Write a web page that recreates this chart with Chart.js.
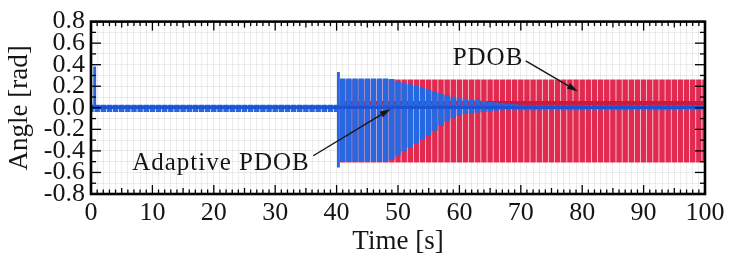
<!DOCTYPE html>
<html><head><meta charset="utf-8">
<script src="https://cdn.jsdelivr.net/npm/chart.js@4.4.1/dist/chart.umd.min.js"></script>
<style>html,body{margin:0;padding:0;background:#fff;}#wrap{width:747px;height:260px;position:relative}</style>
</head><body><div id="wrap"><canvas id="c" width="747" height="260"></canvas></div>
<script>
// sample times (s)
const times=[0,1,2,3,4,5,6,7,8,9,10,11,12,13,14,15,16,17,18,19,20,21,22,23,24,25,26,27,28,29,30,31,32,33,34,35,36,37,38,39,40,
41,42,43,44,45,46,47,48,49,50,51,52,53,54,55,56,57,58,59,60,61,62,63,64,65,66,67,68,69,70,
71,72,73,74,75,76,77,78,79,80,81,82,83,84,85,86,87,88,89,90,91,92,93,94,95,96,97,98,99,100];
// Adaptive PDOB envelope (upper / lower) [rad]
const blueHi=[0.025,0.025,0.025,0.025,0.025,0.025,0.025,0.025,0.025,0.025,0.025,0.025,0.025,0.025,0.025,0.025,0.025,0.025,0.025,0.025,0.025,0.025,0.025,0.025,0.025,0.025,0.025,0.025,0.025,0.025,0.025,0.025,0.025,0.025,0.025,0.025,0.025,0.025,0.025,0.025,0.025,
0.27,0.27,0.27,0.27,0.27,0.27,0.27,0.27,0.265,0.245,0.23,0.215,0.2,0.18,0.165,0.145,0.13,0.115,0.1,0.085,0.08,0.075,0.07,0.06,0.05,0.045,0.04,0.035,0.03,0.025,
0.02,0.02,0.02,0.02,0.02,0.02,0.02,0.02,0.02,0.02,0.02,0.02,0.02,0.02,0.02,0.02,0.02,0.02,0.02,0.02,0.02,0.02,0.02,0.02,0.02,0.02,0.02,0.02,0.02,0.02];
const blueLo=[-0.035,-0.035,-0.035,-0.035,-0.035,-0.035,-0.035,-0.035,-0.035,-0.035,-0.035,-0.035,-0.035,-0.035,-0.035,-0.035,-0.035,-0.035,-0.035,-0.035,-0.035,-0.035,-0.035,-0.035,-0.035,-0.035,-0.035,-0.035,-0.035,-0.035,-0.035,-0.035,-0.035,-0.035,-0.035,-0.035,-0.035,-0.035,-0.035,-0.035,-0.035,
-0.5,-0.5,-0.5,-0.5,-0.5,-0.5,-0.5,-0.5,-0.48,-0.44,-0.4,-0.365,-0.33,-0.29,-0.255,-0.21,-0.165,-0.125,-0.095,-0.07,-0.055,-0.048,-0.04,-0.035,-0.03,-0.025,-0.02,-0.02,-0.02,-0.02,
-0.02,-0.02,-0.02,-0.02,-0.02,-0.02,-0.02,-0.02,-0.02,-0.02,-0.02,-0.02,-0.02,-0.02,-0.02,-0.02,-0.02,-0.02,-0.02,-0.02,-0.02,-0.02,-0.02,-0.02,-0.02,-0.02,-0.02,-0.02,-0.02,-0.02];
// PDOB envelope (upper / lower) [rad]
const redHi=[null,null,null,null,null,null,null,null,null,null,null,null,null,null,null,null,null,null,null,null,null,null,null,null,null,null,null,null,null,null,null,null,null,null,null,null,null,null,null,null,null,
0.26,0.26,0.26,0.26,0.26,0.26,0.26,0.26,0.26,0.26,0.26,0.26,0.26,0.26,0.26,0.26,0.26,0.26,0.26,0.26,0.26,0.26,0.26,0.26,0.26,0.26,0.26,0.26,0.26,0.26,
0.26,0.26,0.26,0.26,0.26,0.26,0.26,0.26,0.26,0.26,0.26,0.26,0.26,0.26,0.26,0.26,0.26,0.26,0.26,0.26,0.26,0.26,0.26,0.26,0.26,0.26,0.26,0.26,0.26,0.26];
const redLo=[null,null,null,null,null,null,null,null,null,null,null,null,null,null,null,null,null,null,null,null,null,null,null,null,null,null,null,null,null,null,null,null,null,null,null,null,null,null,null,null,null,
-0.505,-0.505,-0.505,-0.505,-0.505,-0.505,-0.505,-0.505,-0.505,-0.505,-0.505,-0.505,-0.505,-0.505,-0.505,-0.505,-0.505,-0.505,-0.505,-0.505,-0.505,-0.505,-0.505,-0.505,-0.505,-0.505,-0.505,-0.505,-0.505,-0.505,
-0.505,-0.505,-0.505,-0.505,-0.505,-0.505,-0.505,-0.505,-0.505,-0.505,-0.505,-0.505,-0.505,-0.505,-0.505,-0.505,-0.505,-0.505,-0.505,-0.505,-0.505,-0.505,-0.505,-0.505,-0.505,-0.505,-0.505,-0.505,-0.505,-0.505];
// transient spikes (Adaptive PDOB)
const spikeTimes=[0.6,40.3];
const spikeLo=[0,-0.55];
const spikeHi=[0.38,0.33];
// dense mean traces
const blueCenterTimes=[0,100];
const blueCenterVals=[0.005,0.005];
const redCenterTimes=[40.5,100];
const redCenterVals=[0.045,0.045];
// labels
const xTitle='Time [s]';
const yTitle='Angle [rad]';
const annotLabels=['PDOB','Adaptive PDOB'];
const annotTextAt=[[58.9,0.40],[6.7,-0.575]];
const annotArrowFrom=[[70.8,0.436],[36.2,-0.445]];
const annotArrowTo=[[79.3,0.152],[48.8,-0.01]];

const SERIF='"Liberation Serif","DejaVu Serif",serif';
const RED='rgb(226,42,80)', REDDARK='rgb(205,25,62)', BLUE='rgb(38,104,226)', BLUEDARK='rgb(28,82,212)';
const GRID='rgba(0,0,0,0.075)', INK='#151515';

function bars(ts,lo,hi){const out=[];ts.forEach((t,i)=>{if(hi[i]!=null&&lo[i]!=null)out.push({x:t,y:[lo[i],hi[i]]});});return out;}
function pts(ts,vs){return ts.map((t,i)=>({x:t,y:vs[i]}));}

const framePlugin={id:'frame',afterDatasetsDraw(chart){
  const {ctx,chartArea:a,scales:{x,y}}=chart;
  ctx.save();
  ctx.strokeStyle='#000';ctx.lineWidth=1.3;
  const seg=(x1,y1,x2,y2)=>{ctx.beginPath();ctx.moveTo(x1,y1);ctx.lineTo(x2,y2);ctx.stroke();};
  x.ticks.forEach(t=>{const v=Math.round(t.value);const px=x.getPixelForValue(t.value);
    const L=v%10===0?9:(v%5===0?6:4.5);seg(px,a.bottom,px,a.bottom-L);seg(px,a.top,px,a.top+L);});
  y.ticks.forEach(t=>{const k=Math.round(t.value*10);const py=y.getPixelForValue(t.value);
    const L=k%2===0?10:5;seg(a.left,py,a.left+L,py);seg(a.right,py,a.right-L,py);});
  ctx.lineWidth=2.6;ctx.strokeRect(a.left,a.top,a.right-a.left,a.bottom-a.top);
  // annotations
  ctx.fillStyle=INK;ctx.font='25px '+SERIF;ctx.textAlign='left';ctx.textBaseline='alphabetic';
  try{ctx.letterSpacing='1px';}catch(e){}
  annotLabels.forEach((s,i)=>{ctx.fillText(s,x.getPixelForValue(annotTextAt[i][0]),y.getPixelForValue(annotTextAt[i][1]));});
  try{ctx.letterSpacing='0px';}catch(e){}
  ctx.strokeStyle=INK;ctx.lineWidth=1.4;
  annotArrowFrom.forEach((f,i)=>{
    const x1=x.getPixelForValue(f[0]),y1=y.getPixelForValue(f[1]);
    const x2=x.getPixelForValue(annotArrowTo[i][0]),y2=y.getPixelForValue(annotArrowTo[i][1]);
    const ang=Math.atan2(y2-y1,x2-x1),hl=11,hw=3.2;
    const bx=x2-hl*Math.cos(ang),by=y2-hl*Math.sin(ang);
    seg(x1,y1,bx,by);
    ctx.beginPath();ctx.moveTo(x2,y2);
    ctx.lineTo(bx+hw*Math.sin(ang),by-hw*Math.cos(ang));
    ctx.lineTo(bx-hw*Math.sin(ang),by+hw*Math.cos(ang));ctx.closePath();ctx.fill();
  });
  ctx.restore();
}};

new Chart(document.getElementById('c').getContext('2d'),{
  type:'bar',
  data:{datasets:[
    {type:'bar',label:'PDOB',data:bars(times,redLo,redHi),backgroundColor:RED,barThickness:4.8,grouped:false,order:4},
    {type:'line',label:'PDOB mean',data:pts(redCenterTimes,redCenterVals),borderColor:REDDARK,borderWidth:4,pointRadius:0,order:3},
    {type:'bar',label:'Adaptive PDOB',data:bars(times,blueLo,blueHi),backgroundColor:BLUE,barThickness:4.8,grouped:false,order:2},
    {type:'bar',label:'spikes',data:bars(spikeTimes,spikeLo,spikeHi),backgroundColor:BLUE,barThickness:2.2,grouped:false,order:1},
    {type:'line',label:'Adaptive mean',data:pts(blueCenterTimes,blueCenterVals),borderColor:BLUEDARK,borderWidth:3.5,pointRadius:0,order:0}
  ]},
  options:{
    responsive:false,animation:false,devicePixelRatio:1,
    layout:{padding:{top:18,right:42,left:0,bottom:0}},
    plugins:{legend:{display:false},tooltip:{enabled:false}},
    scales:{
      x:{type:'linear',min:0,max:100,offset:false,
        ticks:{stepSize:1,autoSkip:false,maxRotation:0,minRotation:0,padding:4,color:INK,font:{family:SERIF,size:26},
          callback:v=>(Math.round(v)%10===0?String(Math.round(v)):'')},
        grid:{color:GRID,lineWidth:1,drawTicks:false,offset:false},
        border:{display:false},
        title:{display:true,text:xTitle,color:INK,font:{family:SERIF,size:27},padding:{top:0,bottom:2}},
        afterFit(s){s.height=66;}
      },
      y:{type:'linear',min:-0.8,max:0.8,
        ticks:{stepSize:0.1,autoSkip:false,padding:6,color:INK,font:{family:SERIF,size:26},
          callback:v=>{const k=Math.round(v*10);return k%2===0?(k/10).toFixed(1):'';}},
        grid:{color:GRID,lineWidth:1,drawTicks:false},
        border:{display:false},
        title:{display:true,text:yTitle,color:INK,font:{family:SERIF,size:27},padding:{top:4,bottom:0}},
        afterFit(s){s.width=91;}
      }
    }
  },
  plugins:[framePlugin]
});
</script></body></html>
